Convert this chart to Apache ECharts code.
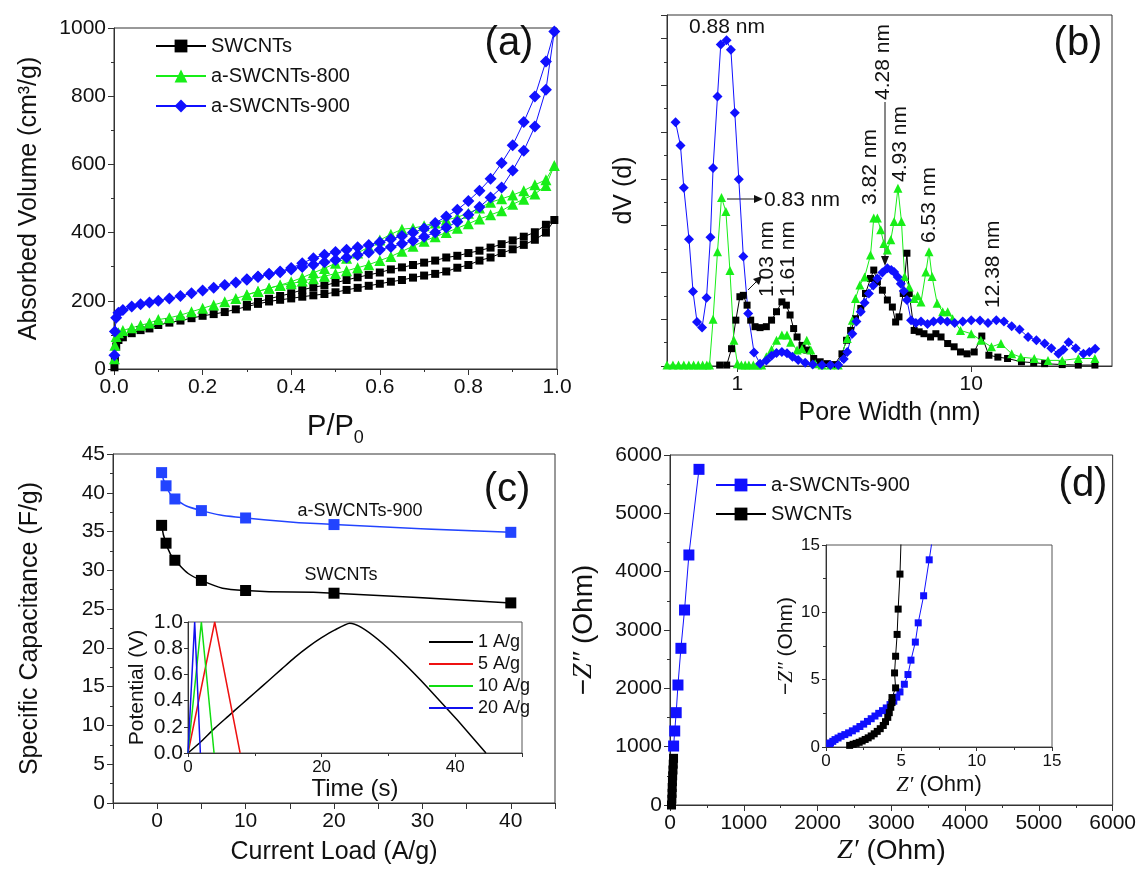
<!DOCTYPE html>
<html>
<head>
<meta charset="utf-8">
<title>SWCNTs figure</title>
<script src="https://cdn.jsdelivr.net/npm/echarts@6/dist/echarts.min.js"></script>
<style>
  html, body { margin: 0; padding: 0; background: #fff; }
  #chart { width: 1139px; height: 871px; }
</style>
</head>
<body>
<div id="chart"></div>
<script>
// (a) N2 isotherms: adsorption then desorption branch
const P_ADS = [0.001, 0.002, 0.005, 0.01, 0.02, 0.04, 0.06, 0.08,
  0.1, 0.125, 0.15, 0.175, 0.2, 0.225, 0.25, 0.275, 0.3, 0.325, 0.35, 0.375,
  0.4, 0.425, 0.45, 0.475, 0.5, 0.525, 0.55, 0.575, 0.6, 0.625, 0.65, 0.675,
  0.7, 0.725, 0.75, 0.775, 0.8, 0.825, 0.85, 0.875, 0.9, 0.925, 0.95, 0.975, 0.994]
const P_DES = [0.975, 0.95, 0.925, 0.9, 0.875, 0.85, 0.825, 0.8, 0.775, 0.75,
  0.725, 0.7, 0.675, 0.65, 0.625, 0.6, 0.575, 0.55, 0.525, 0.5,
  0.475, 0.45, 0.425, 0.4, 0.375, 0.35, 0.325, 0.3]
const SW_ADS = [5, 30, 66, 85, 93, 105, 114, 119,
  129, 136, 142, 149, 156, 161, 167, 175, 183, 191, 198, 203,
  207, 212, 216, 220, 225, 232, 238, 244, 250, 256, 261, 268,
  274, 279, 286, 297, 305, 318, 327, 340, 351, 364, 379, 400, 437]
const SW_DES = [423, 401, 388, 377, 366, 356, 347, 340, 332, 327,
  318, 312, 305, 298, 292, 283, 276, 269, 261, 253,
  245, 240, 232, 222, 214, 206, 197, 188]
const A800_ADS = [30, 70, 95, 106, 113, 121, 128, 135,
  145, 150, 158, 168, 178, 188, 197, 207, 217, 227, 237, 245,
  250, 258, 265, 272, 280, 288, 297, 306, 318, 330, 345, 360,
  375, 388, 400, 413, 426, 440, 452, 464, 483, 498, 513, 538, 597]
const A800_DES = [555, 540, 523, 510, 499, 489, 472, 457, 445, 437,
  428, 420, 413, 410, 395, 378, 358, 340, 325, 310,
  295, 282, 268, 256, 246, 237, 228, 218]
const A900_ADS = [40, 110, 150, 165, 173, 183, 190, 195,
  200, 207, 214, 222, 230, 238, 246, 254, 262, 270, 277, 284,
  292, 299, 306, 313, 320, 327, 334, 342, 350, 358, 367, 376,
  388, 400, 415, 432, 452, 475, 503, 532, 582, 640, 711, 819, 990]
const A900_DES = [902, 799, 724, 656, 604, 558, 523, 493, 467, 447,
  428, 412, 400, 390, 381, 372, 364, 357, 350, 343,
  335, 325, 310, 296, 286, 279, 271, 263]

// (b) pore size distribution [width nm, dV]
const PSD_SW = [[0.84, 0.02], [0.9, 0.02], [0.944, 0.37], [0.985, 0.98], [1.025, 1.48], [1.06, 1.51],
  [1.1, 1.3], [1.14, 0.98], [1.19, 0.84], [1.25, 0.82], [1.33, 0.84], [1.4, 0.98], [1.47, 1.16],
  [1.55, 1.37], [1.62, 1.3], [1.68, 1.09], [1.74, 0.8], [1.8, 0.62], [1.89, 0.44], [1.98, 0.34],
  [2.12, 0.16], [2.26, 0.09], [2.42, 0.05], [2.6, 0.03], [2.8, 0.26], [2.93, 0.55], [3.05, 0.76],
  [3.2, 1.01], [3.37, 1.23], [3.53, 1.55], [3.71, 1.87], [3.83, 2.05], [3.97, 1.8], [4.17, 1.62],
  [4.38, 1.41], [4.6, 1.26], [4.75, 0.94], [4.91, 1.05], [5.12, 1.55], [5.31, 2.41], [5.43, 1.55],
  [5.7, 0.76], [5.99, 0.73], [6.28, 0.69], [6.7, 0.62], [7.06, 0.69], [7.43, 0.62], [7.93, 0.48],
  [8.45, 0.41], [9.0, 0.3], [9.6, 0.26], [10.3, 0.3], [11.1, 0.64], [11.9, 0.23], [13.0, 0.19],
  [14.3, 0.16], [16.4, 0.09], [18.5, 0.07], [20.6, 0.05], [24.5, 0.03], [28.7, 0.02], [33.8, 0.02]]
const PSD_800 = [[0.5, 0.02], [0.53, 0.02], [0.56, 0.02], [0.59, 0.02], [0.62, 0.02], [0.65, 0.02],
  [0.68, 0.02], [0.71, 0.02], [0.74, 0.02], [0.76, 0.02], [0.787, 1.0], [0.822, 2.44], [0.855, 3.6],
  [0.893, 3.3], [0.929, 2.04], [0.966, 0.55], [1.0, 0.05], [1.04, 0.02], [1.08, 0.02], [1.12, 0.02],
  [1.17, 0.02], [1.22, 0.02], [1.27, 0.02], [1.33, 0.2], [1.4, 0.35], [1.47, 0.55], [1.55, 0.66],
  [1.63, 0.66], [1.69, 0.51], [1.8, 0.34], [1.89, 0.37], [1.98, 0.55], [2.06, 0.34], [2.15, 0.05],
  [2.3, 0.02], [2.5, 0.02], [2.7, 0.02], [2.95, 0.59], [3.1, 0.98], [3.2, 1.44], [3.34, 1.73],
  [3.5, 1.9], [3.71, 2.37], [3.83, 3.16], [3.97, 3.16], [4.1, 2.91], [4.23, 2.62], [4.38, 2.48],
  [4.53, 2.7], [4.68, 3.09], [4.86, 3.8], [5.03, 3.09], [5.19, 1.91], [5.43, 1.69], [5.7, 1.44],
  [5.9, 1.5], [6.1, 1.37], [6.4, 2.01], [6.6, 2.44], [6.8, 1.91], [7.15, 1.34], [7.55, 1.16],
  [7.93, 1.16], [8.32, 1.01], [9.0, 0.76], [10.0, 0.69], [11.0, 0.55], [12.2, 0.41], [13.4, 0.48],
  [14.9, 0.26], [16.3, 0.19], [18.6, 0.16], [21.3, 0.12], [24.5, 0.12], [28.7, 0.16], [33.8, 0.16]]
const PSD_900 = [[0.544, 5.21], [0.571, 4.71], [0.59, 3.81], [0.621, 2.71], [0.646, 1.59], [0.672, 0.94],
  [0.706, 0.82], [0.738, 1.46], [0.767, 2.75], [0.787, 4.23], [0.822, 5.76], [0.849, 6.87],
  [0.899, 6.96], [0.938, 6.76], [0.975, 5.41], [1.014, 3.99], [1.06, 2.34], [1.112, 1.12],
  [1.178, 0.29], [1.25, 0.05], [1.33, 0.12], [1.4, 0.22], [1.47, 0.28], [1.55, 0.3], [1.63, 0.27],
  [1.72, 0.2], [1.82, 0.13], [1.95, 0.07], [2.1, 0.03], [2.3, 0.02], [2.5, 0.02], [2.7, 0.02],
  [2.85, 0.15], [2.95, 0.3], [3.1, 0.69], [3.23, 0.95], [3.37, 1.16], [3.5, 1.35], [3.65, 1.55],
  [3.81, 1.72], [3.97, 1.87], [4.17, 2.0], [4.38, 2.09], [4.55, 2.05], [4.68, 2.01], [4.85, 1.9],
  [5.0, 1.76], [5.15, 1.6], [5.31, 1.41], [5.53, 0.98], [5.8, 0.92], [6.1, 0.95], [6.5, 0.9],
  [6.9, 0.95], [7.4, 0.98], [7.9, 0.95], [8.5, 0.92], [9.2, 0.95], [10.0, 0.98], [10.9, 0.97],
  [11.8, 0.92], [12.8, 0.98], [13.8, 0.95], [14.9, 0.85], [16.1, 0.78], [17.5, 0.62], [19.0, 0.55],
  [20.6, 0.48], [22.0, 0.38], [23.6, 0.26], [24.8, 0.35], [26.1, 0.51], [28.0, 0.38], [30.2, 0.26],
  [32.0, 0.3], [33.9, 0.37]]

// (c) capacitance vs current load
const CURRENT = [0.5, 1, 2, 5, 10, 20, 40]
const CAP_900 = [42.6, 40.9, 39.2, 37.7, 36.75, 35.9, 34.9]
const CAP_SW = [35.8, 33.5, 31.3, 28.7, 27.4, 27.05, 25.8]
// (c) inset charge/discharge curves [time s, potential V]
const GCD_1 = [[0, 0], [2, 0.09], [4, 0.19], [6, 0.28], [8, 0.37], [10, 0.46], [12, 0.55], [14, 0.64],
  [16, 0.73], [18, 0.81], [20, 0.88], [22, 0.94], [24.2, 0.99], [44.6, 0]]
const GCD_5 = [[0, 0], [4, 1.0], [7.8, 0]]
const GCD_10 = [[0, 0], [2, 1.0], [3.9, 0]]
const GCD_20 = [[0, 0], [1, 1.0], [1.85, 0]]

// (d) Nyquist plots [Z', -Z'']
const EIS_900 = [[49, 1011], [64, 1269], [84, 1583], [108, 2057], [148, 2686], [197, 3343], [256, 4286], [393, 5754]]
const EIS_SW = [[20, 0], [25, 100], [28, 200], [30, 300], [33, 400], [36, 500], [40, 600], [44, 700], [48, 800]]
const EIS_900_LOW = [[0.24, 0.25], [0.3, 0.3], [0.45, 0.42], [0.6, 0.55], [0.8, 0.67], [1.0, 0.8], [1.25, 0.92],
  [1.5, 1.05], [1.75, 1.2], [2.0, 1.35], [2.25, 1.52], [2.5, 1.7], [2.75, 1.9], [3.0, 2.1], [3.25, 2.3],
  [3.5, 2.5], [3.75, 2.7], [4.0, 2.9], [4.25, 3.15], [4.5, 3.4], [4.7, 3.7], [4.91, 4.09], [5.2, 4.66],
  [5.44, 5.38], [5.64, 6.45], [5.93, 7.79], [6.12, 9.22], [6.48, 11.23], [6.85, 13.9], [7.2, 16.5]]
const EIS_SW_LOW = [[1.57, 0.12], [1.8, 0.2], [2.0, 0.27], [2.2, 0.35], [2.4, 0.45], [2.6, 0.56], [2.8, 0.68],
  [3.0, 0.82], [3.2, 0.98], [3.4, 1.16], [3.6, 1.36], [3.8, 1.6], [3.95, 1.88], [4.1, 2.2], [4.2, 2.55],
  [4.3, 2.95], [4.38, 3.3], [4.38, 3.67], [4.62, 4.39], [4.55, 5.5], [4.62, 6.74], [4.72, 8.36],
  [4.79, 10.24], [4.91, 12.84], [5.0, 16]]

const FONT = 'Liberation Sans, Arial, sans-serif'
const INK = '#111'
const BLUE = '#1010ff'
const GREEN = '#18ee18'

function zip(xs, ys) {
  return xs.map((x, i) => [x, ys[i]])
}
// isotherm loop: adsorption up, desorption back down
function loop(ads, des) {
  return zip(P_ADS, ads).concat(zip(P_DES, des))
}

function axis(o) {
  return {
    type: o.type || 'value',
    gridIndex: o.grid,
    min: o.min,
    max: o.max,
    interval: o.interval,
    name: o.name || '',
    nameLocation: 'middle',
    nameGap: o.nameGap || 30,
    nameTextStyle: Object.assign({ color: INK, fontSize: o.nameSize || 25, fontFamily: FONT }, o.nameStyle || {}),
    axisLine: { show: true, onZero: false, lineStyle: { color: '#333', width: 1 } },
    axisTick: { show: true, length: o.tick || 6, lineStyle: { color: '#333' } },
    minorTick: { show: o.minor !== false, splitNumber: 2, length: 3, lineStyle: { color: '#333' } },
    splitLine: { show: false },
    axisLabel: {
      show: o.labels !== false,
      color: INK,
      fontSize: o.labelSize || 21,
      fontFamily: FONT,
      margin: o.margin || 8,
      // plain numbers, no thousands separator
      formatter: o.formatter || (v => String(v)),
      showMinLabel: o.showMin,
      showMaxLabel: o.showMax,
    },
  }
}

function txt(text, x, y, size, align) {
  return {
    type: 'text', x: x, y: y, silent: true,
    style: { text: text, fontSize: size, fontFamily: FONT, fill: INK, align: align || 'center', verticalAlign: 'middle' },
  }
}
// vertical label reading bottom to top, starting at (x, y)
function vtxt(text, x, y) {
  return {
    type: 'text', x: x, y: y, rotation: Math.PI / 2, silent: true,
    style: { text: text, fontSize: 21, fontFamily: FONT, fill: INK, align: 'left', verticalAlign: 'middle' },
  }
}

const chart = echarts.init(document.getElementById('chart'), null, { renderer: 'canvas' })

const option = {
  backgroundColor: '#fff',
  animation: false,
  grid: [
    { left: 114, top: 28, width: 443, height: 341, show: true, borderColor: '#333', borderWidth: 1 },
    { left: 667, top: 15, width: 445, height: 351, show: true, borderColor: '#333', borderWidth: 1 },
    { left: 113, top: 454, width: 442, height: 349, show: true, borderColor: '#333', borderWidth: 1 },
    { left: 188, top: 622, width: 334, height: 131, show: true, borderColor: '#555', borderWidth: 1 },
    { left: 670, top: 455, width: 443, height: 350, show: true, borderColor: '#333', borderWidth: 1 },
    { left: 826, top: 545, width: 226, height: 202, show: true, borderColor: '#555', borderWidth: 1 },
  ],
  xAxis: [
    axis({ grid: 0, min: 0, max: 1, interval: 0.2, formatter: v => v.toFixed(1),
      name: 'P/P{s|0}', nameGap: 38, nameSize: 29,
      nameStyle: { rich: { s: { fontSize: 18, fontFamily: FONT, color: INK, padding: [22, 0, 0, 0] } } } }),
    Object.assign(axis({ grid: 1, type: 'log', min: 0.5, max: 40, minor: false,
      name: 'Pore Width (nm)', nameGap: 35, showMin: false, showMax: false }), { logBase: 10 }),
    axis({ grid: 2, min: -5, max: 45, interval: 5, minor: false,
      formatter: v => (v % 10 === 0 ? String(v) : ''),
      name: 'Current Load (A/g)', nameGap: 37 }),
    axis({ grid: 3, min: 0, max: 50, interval: 20, labelSize: 17, margin: 6, tick: 4,
      showMax: false, name: 'Time (s)', nameGap: 17, nameSize: 24 }),
    axis({ grid: 4, min: 0, max: 6000, interval: 1000,
      name: '{i|Z′} (Ohm)', nameGap: 32, nameSize: 28,
      nameStyle: { rich: { i: { fontFamily: 'Liberation Serif', fontStyle: 'italic', fontSize: 28, color: INK } } } }),
    axis({ grid: 5, min: 0, max: 15, interval: 5, labelSize: 17, margin: 6, tick: 4,
      name: '{i|Z′} (Ohm)', nameGap: 27, nameSize: 22,
      nameStyle: { rich: { i: { fontFamily: 'Liberation Serif', fontStyle: 'italic', fontSize: 22, color: INK } } } }),
  ],
  yAxis: [
    axis({ grid: 0, min: 0, max: 1000, interval: 200, name: 'Absorbed Volume (cm³/g)', nameGap: 72 }),
    axis({ grid: 1, min: 0, max: 7.5, interval: 1, labels: false, name: 'dV (d)', nameGap: 30, showMax: false }),
    axis({ grid: 2, min: 0, max: 45, interval: 5, name: 'Specific Capacitance (F/g)', nameGap: 70 }),
    axis({ grid: 3, min: 0, max: 1, interval: 0.2, minor: false, tick: 4, margin: 5, formatter: v => v.toFixed(1),
      name: 'Potential (V)', nameGap: 40, nameSize: 21 }),
    axis({ grid: 4, min: 0, max: 6000, interval: 1000,
      name: '−{i|Z″} (Ohm)', nameGap: 72, nameSize: 28,
      nameStyle: { rich: { i: { fontFamily: 'Liberation Serif', fontStyle: 'italic', fontSize: 28, color: INK } } } }),
    axis({ grid: 5, min: 0, max: 15, interval: 5, labelSize: 17, margin: 6, tick: 4,
      name: '−{i|Z″} (Ohm)', nameGap: 26, nameSize: 21,
      nameStyle: { rich: { i: { fontFamily: 'Liberation Serif', fontStyle: 'italic', fontSize: 21, color: INK } } } }),
  ],
  legend: [
    {
      data: ['SWCNTs', 'a-SWCNTs-800', 'a-SWCNTs-900'],
      orient: 'vertical', left: 150, top: 31, itemWidth: 50, itemHeight: 16, itemGap: 10,
      textStyle: { fontSize: 20, fontFamily: FONT, color: INK },
    },
    {
      // plain line keys for the inset
      data: ['1 A/g', '5 A/g', '10 A/g', '20 A/g'].map(n => ({ name: n, icon: 'rect' })),
      orient: 'vertical', left: 424, top: 628, itemWidth: 44, itemHeight: 2, itemGap: 4,
      textStyle: { fontSize: 18, fontFamily: FONT, color: INK },
    },
    {
      data: ['a-SWCNTs-900 ', 'SWCNTs '],
      orient: 'vertical', left: 710, top: 470, itemWidth: 50, itemHeight: 16, itemGap: 9,
      textStyle: { fontSize: 20, fontFamily: FONT, color: INK },
    },
  ],
  series: [
    // (a)
    { name: 'SWCNTs', type: 'line', xAxisIndex: 0, yAxisIndex: 0, data: loop(SW_ADS, SW_DES),
      symbol: 'rect', symbolSize: 8, itemStyle: { color: '#000' }, lineStyle: { color: '#000', width: 1 } },
    { name: 'a-SWCNTs-800', type: 'line', xAxisIndex: 0, yAxisIndex: 0, data: loop(A800_ADS, A800_DES),
      symbol: 'triangle', symbolSize: 11, itemStyle: { color: GREEN }, lineStyle: { color: GREEN, width: 1 } },
    { name: 'a-SWCNTs-900', type: 'line', xAxisIndex: 0, yAxisIndex: 0, data: loop(A900_ADS, A900_DES),
      symbol: 'diamond', symbolSize: 12, itemStyle: { color: BLUE }, lineStyle: { color: BLUE, width: 1 } },
    // (b)
    { name: 'PSD SWCNTs', type: 'line', xAxisIndex: 1, yAxisIndex: 1, data: PSD_SW,
      symbol: 'rect', symbolSize: 7, itemStyle: { color: '#000' }, lineStyle: { color: '#000', width: 1 } },
    { name: 'PSD a-SWCNTs-800', type: 'line', xAxisIndex: 1, yAxisIndex: 1, data: PSD_800,
      symbol: 'triangle', symbolSize: 9, itemStyle: { color: GREEN }, lineStyle: { color: GREEN, width: 1 } },
    { name: 'PSD a-SWCNTs-900', type: 'line', xAxisIndex: 1, yAxisIndex: 1, data: PSD_900,
      symbol: 'diamond', symbolSize: 10, itemStyle: { color: BLUE }, lineStyle: { color: BLUE, width: 1 } },
    // (c)
    { name: 'Cs a-SWCNTs-900', type: 'line', xAxisIndex: 2, yAxisIndex: 2, data: zip(CURRENT, CAP_900),
      smooth: true, symbol: 'rect', symbolSize: 11, itemStyle: { color: '#2244ff' },
      lineStyle: { color: '#2244ff', width: 1.5 } },
    { name: 'Cs SWCNTs', type: 'line', xAxisIndex: 2, yAxisIndex: 2, data: zip(CURRENT, CAP_SW),
      smooth: true, symbol: 'rect', symbolSize: 11, itemStyle: { color: '#000' },
      lineStyle: { color: '#000', width: 1.5 } },
    { name: '1 A/g', type: 'line', xAxisIndex: 3, yAxisIndex: 3, data: GCD_1, symbol: 'none',
      smooth: 0.2, itemStyle: { color: '#000' }, lineStyle: { color: '#000', width: 1.5 } },
    { name: '5 A/g', type: 'line', xAxisIndex: 3, yAxisIndex: 3, data: GCD_5, symbol: 'none',
      itemStyle: { color: '#ee1111' }, lineStyle: { color: '#ee1111', width: 1.5 } },
    { name: '10 A/g', type: 'line', xAxisIndex: 3, yAxisIndex: 3, data: GCD_10, symbol: 'none',
      itemStyle: { color: '#11dd11' }, lineStyle: { color: '#11dd11', width: 1.5 } },
    { name: '20 A/g', type: 'line', xAxisIndex: 3, yAxisIndex: 3, data: GCD_20, symbol: 'none',
      itemStyle: { color: '#1111ee' }, lineStyle: { color: '#1111ee', width: 1.5 } },
    // (d)
    { name: 'a-SWCNTs-900 ', type: 'line', xAxisIndex: 4, yAxisIndex: 4, data: EIS_900,
      symbol: 'rect', symbolSize: 11, itemStyle: { color: BLUE }, lineStyle: { color: BLUE, width: 1 } },
    { name: 'SWCNTs ', type: 'line', xAxisIndex: 4, yAxisIndex: 4, data: EIS_SW,
      symbol: 'rect', symbolSize: 9, itemStyle: { color: '#000' }, lineStyle: { color: '#000', width: 1 } },
    { name: 'inset a-SWCNTs-900', type: 'line', xAxisIndex: 5, yAxisIndex: 5, data: EIS_900_LOW,
      symbol: 'rect', symbolSize: 7, itemStyle: { color: BLUE }, lineStyle: { color: BLUE, width: 1 } },
    { name: 'inset SWCNTs', type: 'line', xAxisIndex: 5, yAxisIndex: 5, data: EIS_SW_LOW,
      symbol: 'rect', symbolSize: 7, itemStyle: { color: '#000' }, lineStyle: { color: '#000', width: 1 } },
  ],
  graphic: [
    txt('(a)', 509, 44, 40),
    txt('(b)', 1078, 44, 40),
    txt('(c)', 507, 490, 40),
    txt('(d)', 1083, 485, 40),
    txt('a-SWCNTs-900', 360, 511, 18),
    txt('SWCNTs', 341, 575, 18),
    // (b) peak labels
    txt('0.88 nm', 727, 27, 21),
    txt('0.83 nm', 764, 200, 21, 'left'),
    { type: 'line', silent: true, shape: { x1: 727, y1: 199, x2: 757, y2: 199 }, style: { stroke: '#111', lineWidth: 1 } },
    { type: 'polygon', silent: true, shape: { points: [[763, 199], [754, 195], [754, 203]] }, style: { fill: '#111' } },
    vtxt('1.03 nm', 767, 297),
    { type: 'line', silent: true, shape: { x1: 748, y1: 290, x2: 757, y2: 281 }, style: { stroke: '#111', lineWidth: 1 } },
    { type: 'polygon', silent: true, shape: { points: [[762, 276], [753, 279], [759, 285]] }, style: { fill: '#111' } },
    vtxt('1.61 nm', 788, 297),
    vtxt('3.82 nm', 870, 205),
    vtxt('4.28 nm', 883, 100),
    { type: 'line', silent: true, shape: { x1: 885, y1: 102, x2: 885, y2: 258 }, style: { stroke: '#111', lineWidth: 1 } },
    { type: 'polygon', silent: true, shape: { points: [[885, 266], [881, 256], [889, 256]] }, style: { fill: '#111' } },
    vtxt('4.93 nm', 900, 182),
    vtxt('6.53 nm', 929, 243),
    vtxt('12.38 nm', 993, 308),
  ],
}

chart.setOption(option)
window.addEventListener('resize', function () {
  chart.resize()
})
</script>
</body>
</html>
